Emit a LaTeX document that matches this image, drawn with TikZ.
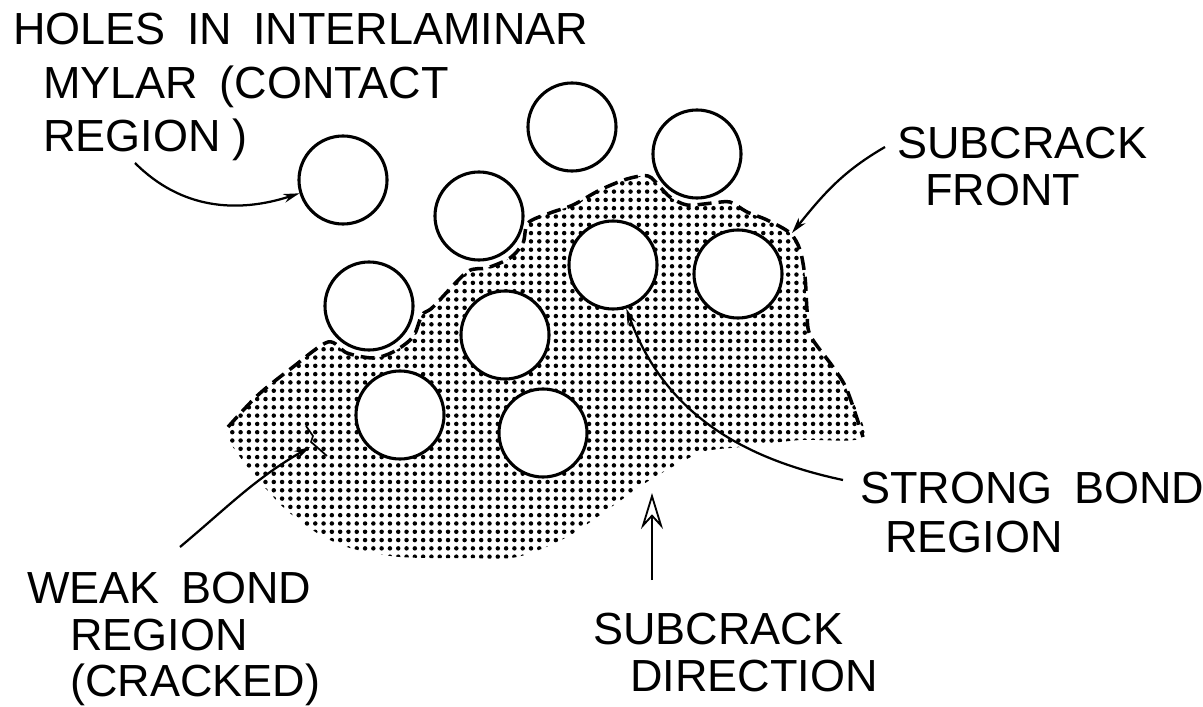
\documentclass[tikz,border=0pt]{standalone}
\usepackage{fontspec}
\newfontfamily\lettering[WordSpace=1.7]{Liberation Sans}
\usetikzlibrary{arrows.meta,patterns.meta}

\tikzset{
  hole/.style={circle,draw,fill=white,line width=2.2pt,minimum size=2.2cm,inner sep=0pt},
  callout/.style={font=\lettering\fontsize{32}{33}\selectfont,align=left,inner sep=0pt,anchor=north west},
  ptr/.style={line width=1.6pt,-{Stealth[length=4mm,width=2.2mm]}},
  dirptr/.style={line width=1.6pt,-{Stealth[open,length=9mm,width=5.5mm,inset=3mm,line width=1.3pt]}},
  crackfront/.style={line width=2.5pt,dash pattern=on 10pt off 5pt},
}

\begin{document}
\begin{tikzpicture}[x=0.025cm,y=0.025cm]
\useasboundingbox (0,0) rectangle (1203,706);
% cracked (weak bond) area
\fill[pattern={Dots[distance=5.9pt,radius=1.6pt]}] plot[smooth cycle,tension=0.5] coordinates {
  (230,264) (228,279) (258,311) (293,339) (328,364) (347,353) (373,348) (393,354)
  (413,369) (422,391) (433,399) (467,434) (487,438) (510,448) (523,463) (528,483)
  (550,493) (573,501) (600,516) (627,527) (648,530) (660,519) (670,509) (687,501)
  (713,503) (730,504) (747,494) (767,486) (790,473) (800,456) (805,429) (807,396)
  (810,371) (833,339) (847,316) (863,269) (800,266) (740,259) (700,253) (650,226)
  (617,203) (567,169) (517,149) (467,148) (400,149) (350,158) (317,173) (283,199)
  (250,236)};
\draw[crackfront] plot[smooth,tension=0.5] coordinates {
  (228,279) (258,311) (293,339) (328,364) (347,353) (373,348) (393,354)
  (413,369) (422,391) (433,399) (467,434) (487,438) (510,448) (523,463) (528,483)
  (550,493) (573,501) (600,516) (627,527) (648,530) (660,519) (670,509) (687,501)
  (713,503) (730,504) (747,494) (767,486) (790,473) (800,456) (805,429) (807,396)
  (810,371) (833,339) (847,316) (863,269)};
% holes in the mylar
\node[hole] (h1) at (343,526) {};
\node[hole] (h2) at (572,579) {};
\node[hole] (h3) at (697,552) {};
\node[hole] (h4) at (479,490) {};
\node[hole] (h5) at (369,400) {};
\node[hole] (h6) at (613,441) {};
\node[hole] (h7) at (738,432) {};
\node[hole] (h8) at (505,371) {};
\node[hole] (h9) at (400,291) {};
\node[hole] (h10) at (543,273) {};
% labels
\node[callout] (holes) at (13,693) {HOLES IN INTERLAMINAR\\[5pt]\hspace*{0.75cm}MYLAR (CONTACT\\[5pt]\hspace*{0.75cm}REGION\hspace{0.25em})};
\node[callout] (front) at (897,579) {SUBCRACK\\\hspace*{0.7cm}FRONT};
\node[callout] (strong) at (860,234) {STRONG BOND\\[2pt]\hspace*{0.62cm}REGION};
\node[callout] (dir) at (593,93) {SUBCRACK\\\hspace*{0.92cm}DIRECTION};
\node[callout] (weak) at (27,134) {WEAK BOND\\\hspace*{1.07cm}REGION\\\hspace*{1.07cm}(CRACKED)};
% pointers
\coordinate (holes tail) at (135,543);
\coordinate (front tail) at (885,559);
\coordinate (front tip) at (792,473);
\coordinate (strong tail) at (843,226);
\coordinate (weak tail) at (180,159);
\coordinate (crack) at (310,259);
\coordinate (dir tail) at (652,126);
\coordinate (dir tip) at (652,213);
\draw[ptr] (holes tail) to[out=-45,in=198] (h1.197);
\draw[ptr] (front tail) to[out=210,in=51] (front tip);
\draw[ptr] (strong tail) to[out=168,in=-70] (h6.287);
\draw[ptr] (weak tail) to[out=40,in=210] (crack);
\draw[line width=1.2pt] (306,280) -- (313,270) -- (311,264) -- (318,258) -- (327,250);
\draw[dirptr] (dir tail) -- (dir tip);
\end{tikzpicture}
\end{document}
